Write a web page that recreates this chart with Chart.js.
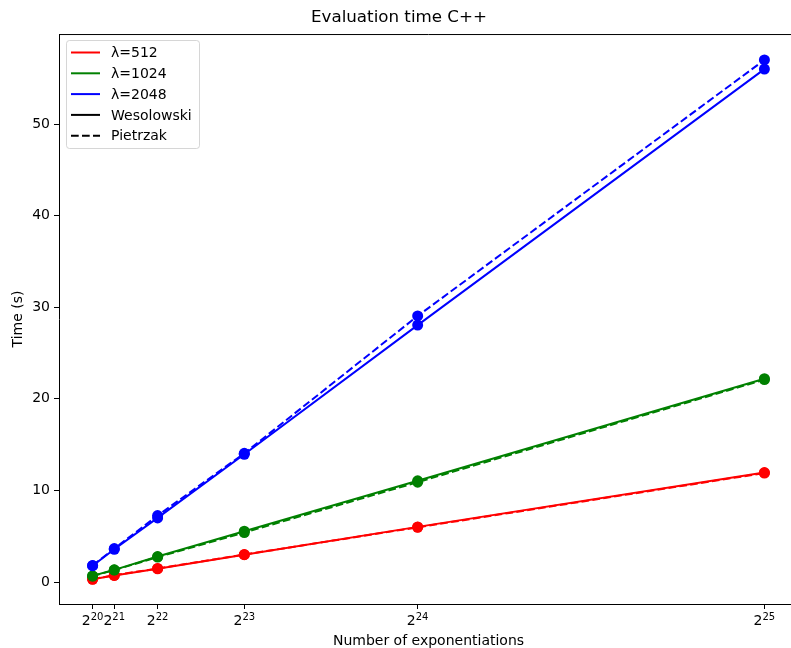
<!DOCTYPE html>
<html lang="en">
<head>
    <meta charset="UTF-8">
    <title>Evaluation time C++</title>
    <script src="https://cdn.jsdelivr.net/npm/chart.js"></script>
    <style>
        body { margin: 0; overflow: hidden; background: #fff; }
        .chart-container { position: absolute; left: 0; top: 0; width: 820px; height: 648px; }
    </style>
</head>
<body>
    <div class="chart-container"><canvas id="chart" width="820" height="648"></canvas></div>

    <script>
        // Number of exponentiations (2^20 .. 2^25)
        const xValues = [1048576, 2097152, 4194304, 8388608, 16777216, 33554432];
        const xTickExponents = ['20', '21', '22', '23', '24', '25'];
        const yTicks = [0, 10, 20, 30, 40, 50];

        // Time in seconds
        const wes512  = [0.30, 0.72, 1.45, 2.98, 6.02, 11.95];
        const pie512  = [0.32, 0.74, 1.48, 3.00, 5.97, 11.90];
        const wes1024 = [0.67, 1.33, 2.78, 5.55, 11.05, 22.20];
        const pie1024 = [0.65, 1.30, 2.72, 5.40, 10.90, 22.10];
        const wes2048 = [1.78, 3.57, 7.00, 13.95, 28.05, 56.00];
        const pie2048 = [1.80, 3.65, 7.25, 14.05, 29.05, 57.00];

        const legendLabels = ['λ=512', 'λ=1024', 'λ=2048', 'Wesolowski', 'Pietrzak'];
        const legendColors = ['#ff0000', '#008000', '#0000ff', '#000000', '#000000'];
        const legendDashed = [false, false, false, false, true];

        const FONT = 'DejaVu Sans';
        const DASH = [7.7, 3.3];

        function series(label, values, color, dashed, order) {
            return {
                label: label,
                data: values.map((v, i) => ({ x: xValues[i], y: v })),
                borderColor: color,
                backgroundColor: color,
                borderWidth: 2,
                borderDash: dashed ? DASH : [],
                pointRadius: 5.5,
                pointBorderWidth: 0,
                pointHoverRadius: 5.5,
                tension: 0,
                order: order
            };
        }

        // draws the top/right spines, the 2^n tick labels and the legend box
        const decorPlugin = {
            id: 'decor',
            afterDraw: (chart) => {
                const ctx = chart.ctx;
                const area = chart.chartArea;
                const xScale = chart.scales.x;
                ctx.save();

                ctx.strokeStyle = '#000';
                ctx.lineWidth = 1;
                ctx.beginPath();
                ctx.moveTo(area.left, area.top + 0.5);
                ctx.lineTo(area.right, area.top + 0.5);
                ctx.lineTo(area.right, area.bottom);
                ctx.stroke();

                // tick labels like 2^20 with a raised exponent
                ctx.fillStyle = '#000';
                ctx.textBaseline = 'alphabetic';
                ctx.textAlign = 'left';
                const baseY = area.bottom + 21;
                xValues.forEach((v, i) => {
                    const px = xScale.getPixelForValue(v);
                    ctx.font = '14px "' + FONT + '"';
                    const wb = ctx.measureText('2').width;
                    ctx.font = '10px "' + FONT + '"';
                    const we = ctx.measureText(xTickExponents[i]).width;
                    const x0 = px - (wb + we) / 2;
                    ctx.font = '14px "' + FONT + '"';
                    ctx.fillText('2', x0, baseY);
                    ctx.font = '10px "' + FONT + '"';
                    ctx.fillText(xTickExponents[i], x0 + wb, baseY - 5);
                });

                // legend
                const lx = 66.5, ly = 40.5, lw = 133, lh = 108, r = 3;
                ctx.beginPath();
                ctx.moveTo(lx + r, ly);
                ctx.arcTo(lx + lw, ly, lx + lw, ly + lh, r);
                ctx.arcTo(lx + lw, ly + lh, lx, ly + lh, r);
                ctx.arcTo(lx, ly + lh, lx, ly, r);
                ctx.arcTo(lx, ly, lx + lw, ly, r);
                ctx.closePath();
                ctx.fillStyle = 'rgba(255,255,255,0.8)';
                ctx.fill();
                ctx.strokeStyle = 'rgba(204,204,204,0.8)';
                ctx.lineWidth = 1;
                ctx.stroke();

                ctx.font = '14px "' + FONT + '"';
                ctx.textBaseline = 'middle';
                legendLabels.forEach((label, i) => {
                    const y = 52.5 + i * 20.8;
                    ctx.strokeStyle = legendColors[i];
                    ctx.lineWidth = 2;
                    ctx.setLineDash(legendDashed[i] ? DASH : []);
                    ctx.beginPath();
                    ctx.moveTo(71, y);
                    ctx.lineTo(100, y);
                    ctx.stroke();
                    ctx.setLineDash([]);
                    ctx.fillStyle = '#000';
                    ctx.fillText(label, 111, y + 1);
                });

                ctx.restore();
            }
        };

        Chart.defaults.font.family = FONT;
        Chart.defaults.color = '#000';

        new Chart(document.getElementById('chart').getContext('2d'), {
            type: 'line',
            data: {
                datasets: [
                    series('λ=512 Wesolowski', wes512, '#ff0000', false, 6),
                    series('λ=512 Pietrzak', pie512, '#ff0000', true, 5),
                    series('λ=1024 Wesolowski', wes1024, '#008000', false, 4),
                    series('λ=1024 Pietrzak', pie1024, '#008000', true, 3),
                    series('λ=2048 Wesolowski', wes2048, '#0000ff', false, 2),
                    series('λ=2048 Pietrzak', pie2048, '#0000ff', true, 1)
                ]
            },
            options: {
                responsive: false,
                animation: false,
                layout: { padding: { left: 0, right: 22, top: 0, bottom: 0 } },
                plugins: {
                    legend: { display: false },
                    tooltip: { enabled: false },
                    title: {
                        display: true,
                        text: 'Evaluation time C++',
                        font: { size: 16.7, weight: 'normal' },
                        padding: { top: 8, bottom: 6 }
                    }
                },
                scales: {
                    x: {
                        type: 'linear',
                        min: -0.55 * 1048576,
                        max: 33.55 * 1048576,
                        afterBuildTicks: (scale) => { scale.ticks = xValues.map(v => ({ value: v })); },
                        afterFit: (scale) => { scale.height = 44; },
                        ticks: { display: false },
                        grid: { drawOnChartArea: false, drawTicks: true, tickLength: 5, color: '#000' },
                        border: { color: '#000', width: 1 },
                        title: {
                            display: true,
                            text: 'Number of exponentiations',
                            font: { size: 14, lineHeight: 1.0 },
                            padding: { top: 0, bottom: 0 }
                        }
                    },
                    y: {
                        type: 'linear',
                        min: -2.40,
                        max: 59.83,
                        afterBuildTicks: (scale) => { scale.ticks = yTicks.map(v => ({ value: v })); },
                        afterFit: (scale) => { scale.width = 59; },
                        ticks: { font: { size: 14 }, padding: 4 },
                        grid: { drawOnChartArea: false, drawTicks: true, tickLength: 5, color: '#000' },
                        border: { color: '#000', width: 1 },
                        title: {
                            display: true,
                            text: 'Time (s)',
                            font: { size: 14 },
                            padding: { top: 10, bottom: 0 }
                        }
                    }
                }
            },
            plugins: [decorPlugin]
        });
    </script>
</body>
</html>
